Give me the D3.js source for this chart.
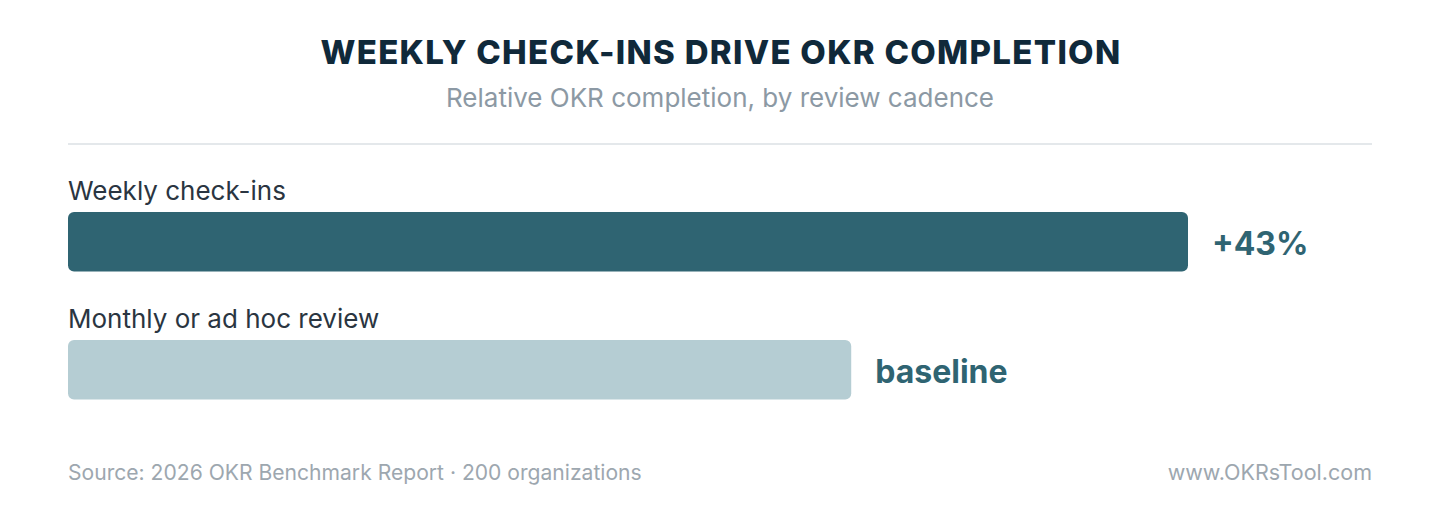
<!DOCTYPE html>
<html>
<head>
<meta charset="utf-8">
<script src="https://cdn.jsdelivr.net/npm/d3@7/dist/d3.min.js"></script>
<style>
  html, body { margin: 0; padding: 0; background: #ffffff; }
  svg { display: block; font-family: Inter, "Noto Sans", sans-serif; }
</style>
</head>
<body>
<svg id="chart" width="1440" height="520"></svg>
<script>
const categories = ["Weekly check-ins", "Monthly or ad hoc review"];
const values = [143, 100];
const valueLabels = ["+43%", "baseline"];
const barColors = ["#2f6472", "#b5cdd3"];
const titleText = "WEEKLY CHECK-INS DRIVE OKR COMPLETION";
const subtitleText = "Relative OKR completion, by review cadence";
const sourceText = "Source: 2026 OKR Benchmark Report \u00b7 200 organizations";
const siteText = "www.OKRsTool.com";

const svg = d3.select("#chart");
const left = 68, right = 1372;

svg.append("text")
  .attr("x", 721).attr("y", 64)
  .attr("text-anchor", "middle")
  .attr("font-size", 33).attr("font-weight", 800)
  .attr("letter-spacing", 1.3)
  .attr("fill", "#10293a")
  .text(titleText);

svg.append("text")
  .attr("x", 720).attr("y", 107)
  .attr("text-anchor", "middle")
  .attr("font-size", 26)
  .attr("fill", "#8c99a4")
  .text(subtitleText);

svg.append("line")
  .attr("x1", left).attr("x2", right)
  .attr("y1", 144).attr("y2", 144)
  .attr("stroke", "#e4e8eb").attr("stroke-width", 2);

const x = d3.scaleLinear().domain([0, 143]).range([left, left + 1120]);
const y = d3.scaleBand().domain(categories).range([212, 468]).paddingInner(0).paddingOuter(0);
const barH = 59.5;

const rows = svg.append("g").selectAll("g.row").data(categories).join("g").attr("class", "row");

rows.append("text")
  .attr("x", left)
  .attr("y", d => y(d) - 12)
  .attr("font-size", 26)
  .attr("fill", "#2a3541")
  .text(d => d);

rows.append("rect")
  .attr("x", x(0))
  .attr("y", d => y(d))
  .attr("width", (d, i) => x(values[i]) - x(0))
  .attr("height", barH)
  .attr("rx", 6).attr("ry", 6)
  .attr("fill", (d, i) => barColors[i]);

rows.append("text")
  .attr("x", (d, i) => x(values[i]) + 24)
  .attr("y", d => y(d) + barH / 2 + 13)
  .attr("font-size", 32).attr("font-weight", 700)
  .attr("fill", "#2f6472")
  .text((d, i) => valueLabels[i]);

svg.append("text")
  .attr("x", left).attr("y", 480)
  .attr("font-size", 21.1)
  .attr("fill", "#9da7af")
  .text(sourceText);

svg.append("text")
  .attr("x", right).attr("y", 480)
  .attr("text-anchor", "end")
  .attr("font-size", 21.5)
  .attr("fill", "#9da7af")
  .text(siteText);
</script>
</body>
</html>
